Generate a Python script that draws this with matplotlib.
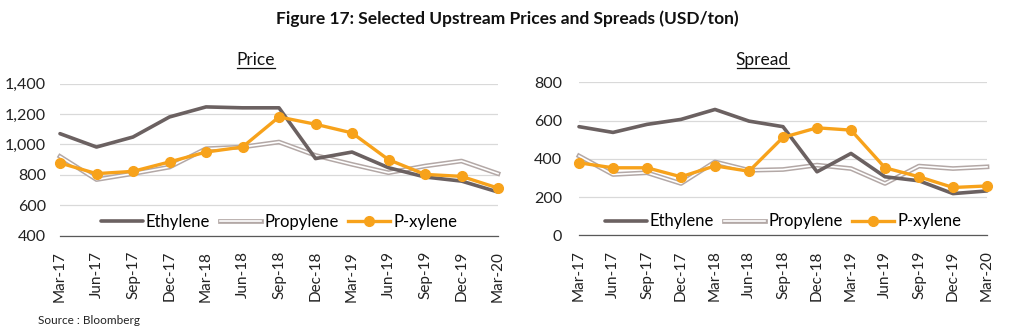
import matplotlib
matplotlib.use("Agg")
import matplotlib.pyplot as plt
import matplotlib.patheffects as pe

dates = ["Mar-17", "Jun-17", "Sep-17", "Dec-17", "Mar-18", "Jun-18", "Sep-18",
         "Dec-18", "Mar-19", "Jun-19", "Sep-19", "Dec-19", "Mar-20"]

price_ethylene = [1070, 982, 1048, 1180, 1246, 1240, 1240, 906, 949, 846, 785, 758, 686]
price_propylene = [920, 768, 807, 850, 971, 982, 1015, 927, 868, 813, 857, 890, 807]
price_pxylene = [877, 807, 822, 884, 949, 982, 1180, 1132, 1075, 899, 802, 789, 712]

spread_ethylene = [568, 538, 580, 606, 658, 597, 568, 332, 428, 306, 285, 218, 232]
spread_propylene = [415, 318, 327, 271, 384, 340, 344, 367, 349, 271, 362, 349, 358]
spread_pxylene = [379, 353, 353, 306, 363, 335, 512, 562, 550, 353, 306, 250, 258]

FONT = ["Lato", "DejaVu Sans"]
plt.rcParams["font.family"] = FONT

C_ETH = "#6b6161"
C_PRO = "#b3a8a6"
C_PX = "#f7a21b"

fig = plt.figure(figsize=(10.13, 3.36), dpi=100)
W, H = 1013, 336


def axes_px(x0, x1, ytop, ybot):
    return fig.add_axes([x0 / W, 1 - ybot / H, (x1 - x0) / W, (ybot - ytop) / H])


def draw(ax, eth, pro, px, ylim, yticks, ytick_fmt, title, title_x, ypad):
    x = list(range(len(dates)))
    ax.plot(x, eth, color=C_ETH, lw=2.6, label="Ethylene", zorder=3, solid_capstyle="round")
    ax.plot(x, pro, color="white", lw=1.2, label="Propylene", zorder=2,
            path_effects=[pe.Stroke(linewidth=3.4, foreground=C_PRO), pe.Normal()])
    ax.plot(x, px, color=C_PX, lw=2.4, marker="o", markersize=7, label="P-xylene", zorder=4)
    ax.set_xlim(0, len(dates) - 1)
    ax.set_ylim(*ylim)
    ax.set_yticks(yticks)
    ax.set_yticklabels([ytick_fmt(v) for v in yticks], fontsize=11.5)
    ax.set_xticks(x)
    ax.set_xticklabels(dates, rotation=90, fontsize=11)
    ax.tick_params(axis="both", length=0, colors="#222222")
    ax.tick_params(axis="y", pad=ypad)
    ax.tick_params(axis="x", pad=11)
    ax.grid(axis="y", color="#d9d9d9", lw=0.9)
    ax.set_axisbelow(True)
    for s in ["top", "right", "left"]:
        ax.spines[s].set_visible(False)
    ax.spines["bottom"].set_color("#595959")
    ax.spines["bottom"].set_linewidth(0.9)
    ax.spines["bottom"].set_zorder(1)
    for ln in ax.lines:
        ln.set_clip_on(False)
    ax.legend(loc="lower center", bbox_to_anchor=(0.5, -0.06), ncol=3, frameon=False,
              fontsize=12, handlelength=2.5, handletextpad=0.2, columnspacing=0.55)
    fig.text(title_x / W, 1 - 60 / H, title, ha="center", va="center", fontsize=12.5,
             color="#111111")


axL = axes_px(60, 498, 83.5, 235.5)
draw(axL, price_ethylene, price_propylene, price_pxylene, (400, 1400),
     [400, 600, 800, 1000, 1200, 1400], lambda v: f"{v:,}", "Price", 256, 10)

axR = axes_px(579, 987, 82.3, 235.3)
draw(axR, spread_ethylene, spread_propylene, spread_pxylene, (0, 800),
     [0, 200, 400, 600, 800], lambda v: f"{v}", "Spread", 762, 12)

# underlines for subtitles
fig.add_artist(plt.Line2D([237 / W, 275 / W], [1 - 68 / H, 1 - 68 / H], color="#111111", lw=0.9))
fig.add_artist(plt.Line2D([737 / W, 789 / W], [1 - 68 / H, 1 - 68 / H], color="#111111", lw=0.9))

fig.text(507 / W, 1 - 19 / H, "Figure 17: Selected Upstream Prices and Spreads (USD/ton)",
         ha="center", va="center", fontsize=12.5, fontweight="bold", color="#111111")
fig.text(38 / W, 1 - 321 / H, "Source : Bloomberg", ha="left", va="center", fontsize=8.5,
         color="#222222")

fig.savefig("out.png", dpi=100)
